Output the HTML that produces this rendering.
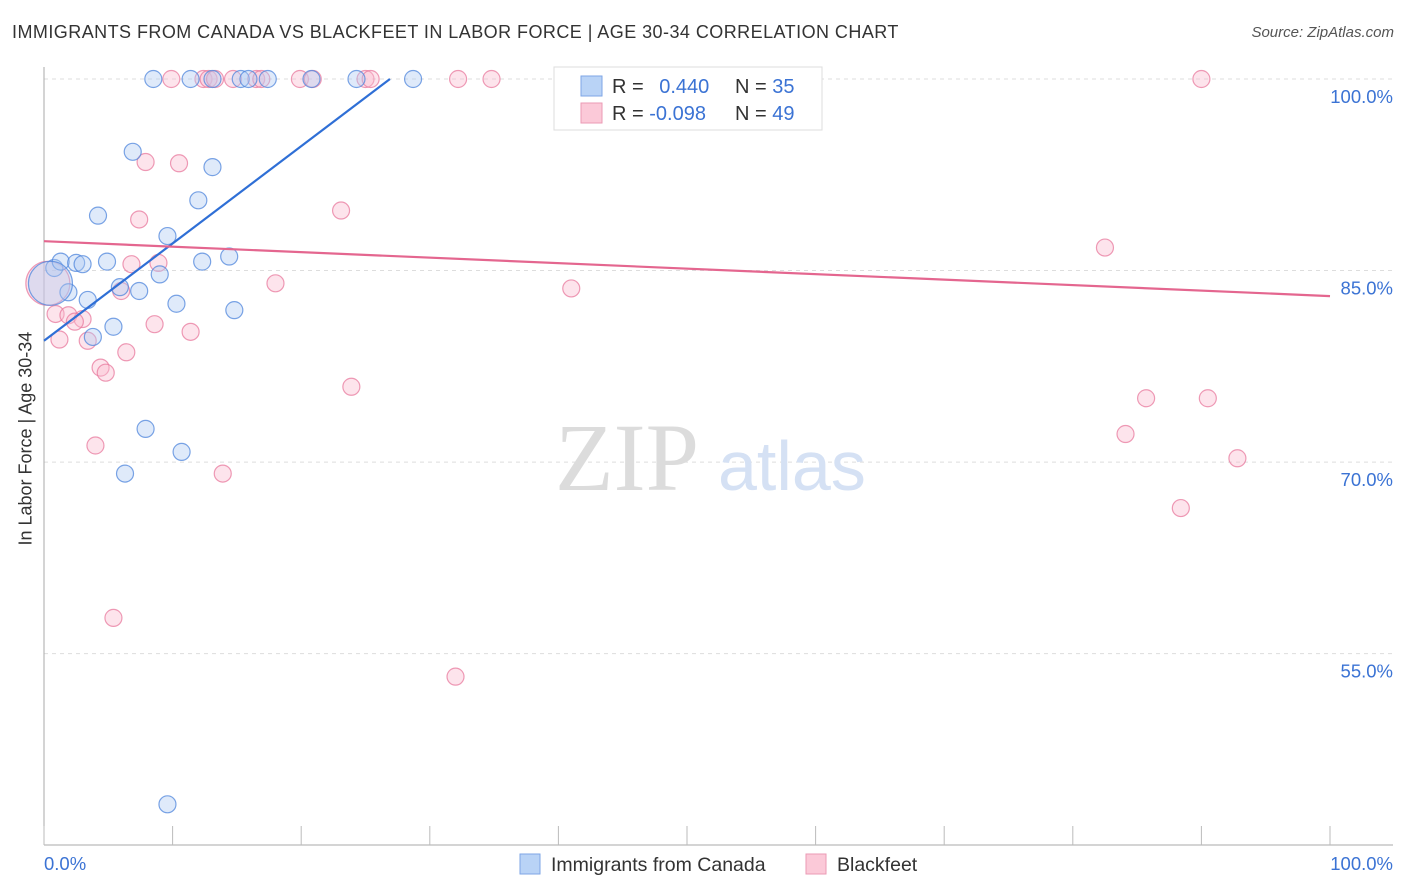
<!DOCTYPE html>
<html><head><meta charset="utf-8">
<style>
body{margin:0;background:#fff;font-family:"Liberation Sans",sans-serif;}
#wrap{position:relative;width:1406px;height:892px;overflow:hidden;}
.t{position:absolute;white-space:nowrap;}
</style></head>
<body>
<div id="wrap">
<div class="t" style="left:12px;top:22px;font-size:18px;letter-spacing:0.45px;color:#333;">IMMIGRANTS FROM CANADA VS BLACKFEET IN LABOR FORCE | AGE 30-34 CORRELATION CHART</div>
<div class="t" style="right:12px;top:24px;font-size:15px;color:#555;font-style:italic;">Source: ZipAtlas.com</div>
<div class="t" style="left:-64px;top:445px;width:180px;text-align:center;font-size:18px;color:#333;transform:rotate(-90deg);">In Labor Force | Age 30-34</div>
<svg id="svg" width="1406" height="892" style="position:absolute;left:0;top:0"></svg>
</div>
<script>
const blueX=[8.5,11.4,13.1,15.3,15.9,17.4,20.8,24.3,28.7,6.9,13.1,12.0,4.2,9.6,0.8,1.3,2.5,3.0,4.9,12.3,14.4,9.0,1.9,3.4,5.9,7.4,10.3,14.8,5.4,3.8,7.9,10.7,6.3,9.6,0.5];
const blueY=[100,100,100,100,100,100,100,100,100,94.3,93.1,90.5,89.3,87.7,85.2,85.7,85.6,85.5,85.7,85.7,86.1,84.7,83.3,82.7,83.7,83.4,82.4,81.9,80.6,79.8,72.6,70.8,69.1,43.2,84.0];
const blueBig=[34];
const pinkX=[9.9,12.4,12.8,13.3,14.7,16.5,16.9,19.9,20.9,25.0,25.4,32.2,34.8,40.5,47.3,50.1,90.0,7.9,10.5,7.4,23.1,82.5,6.8,8.9,18.0,41.0,6.0,0.9,1.9,3.0,2.4,8.6,11.4,1.2,3.4,6.4,4.4,4.8,23.9,85.7,90.5,84.1,4.0,13.9,92.8,88.4,5.4,32.0,0.3];
const pinkY=[100,100,100,100,100,100,100,100,100,100,100,100,100,100,100,100,100,93.5,93.4,89.0,89.7,86.8,85.5,85.6,84.0,83.6,83.4,81.6,81.5,81.2,81.0,80.8,80.2,79.6,79.5,78.6,77.4,77.0,75.9,75.0,75.0,72.2,71.3,69.1,70.3,66.4,57.8,53.2,84.0];
const pinkBig=[48];
const blueTrend=[79.5,0.762];
const pinkTrend=[87.3,-0.043];
const yTicks=[100,85,70,55];
const xTicks=[0,10,20,30,40,50,60,70,80,90,100];
const legendRows=[["0.440","35"],["-0.098","49"]];

const NS="http://www.w3.org/2000/svg";
const svg=document.getElementById('svg');
const X=v=>44+v*12.86;
const Y=v=>79+(100-v)*12.77;
function mk(tag,attrs,parent){const e=document.createElementNS(NS,tag);for(const k in attrs)e.setAttribute(k,attrs[k]);(parent||svg).appendChild(e);return e;}

yTicks.forEach(t=>{
 const g=mk('line',{x1:44,x2:1393,y1:Y(t),y2:Y(t),stroke:'#ddd','stroke-dasharray':'4,4'});
 
 
 const tx=mk('text',{x:1393,y:Y(t)+24,'text-anchor':'end','font-size':18.5,fill:'#3b73d4','font-family':'Liberation Sans, sans-serif'});
 tx.textContent=t.toFixed(1)+'%';
 
 
});
const wm=mk('text',{x:555,y:490,'font-size':96,fill:'#dcdcdc','font-family':'Liberation Serif, serif'});wm.textContent='ZIP';


const wm2=mk('text',{x:718,y:490,'font-size':70,fill:'#d5e1f4','font-family':'Liberation Sans, sans-serif'});wm2.textContent='atlas';



const ax=mk('line',{x1:44,x2:44,y1:67,y2:845,stroke:'#aaa'});


const bx=mk('line',{x1:44,x2:1393,y1:845,y2:845,stroke:'#aaa'});


xTicks.forEach(t=>{
 const l=mk('line',{x1:X(t),x2:X(t),y1:826,y2:845,stroke:'#bbb'});
 
 
});
[[0,'start',44],[100,'end',1393]].forEach(([v,a,x])=>{
 const t=mk('text',{x:x,y:870,'text-anchor':a,'font-size':18.5,fill:'#3b73d4','font-family':'Liberation Sans, sans-serif'});
 t.textContent=v.toFixed(1)+'%';
 
 
});

function pts(xs,ys,big,fill,stroke,name){
 xs.forEach((x,i)=>{
  const r=big.includes(i)?22:8.5;
  const c=mk('circle',{cx:X(x),cy:Y(ys[i]),r:r,fill:fill,'fill-opacity':0.4,stroke:stroke,'stroke-width':1.2,'stroke-opacity':0.75});
  
  
 });
}
pts(pinkX,pinkY,pinkBig,'#f9bcd0','#e87a9e','blackfeet-point');
pts(blueX,blueY,blueBig,'#aecbf3','#4f86dc','canada-point');

const bEnd=(100-blueTrend[0])/blueTrend[1];
const bl=mk('line',{x1:X(0),y1:Y(blueTrend[0]),x2:X(bEnd),y2:Y(100),stroke:'#2f6fd6','stroke-width':2.2});


const pl=mk('line',{x1:X(0),y1:Y(pinkTrend[0]),x2:X(100),y2:Y(pinkTrend[0]+pinkTrend[1]*100),stroke:'#e4668f','stroke-width':2.2});



const lg=mk('rect',{x:554,y:67,width:268,height:63,fill:'#fff',stroke:'#ddd'});


const cols=[['#b9d3f6','#7ea6e6'],['#fbc9d8','#eb9ab4']];
legendRows.forEach((r,i)=>{
 const y=86+i*27;
 const s=mk('rect',{x:581,y:y-10,width:21,height:20,fill:cols[i][0],stroke:cols[i][1]});
 
 
 const t=mk('text',{x:612,y:y+7,'font-size':20,fill:'#333','font-family':'Liberation Sans, sans-serif'});
 t.innerHTML='R = <tspan fill="#3b73d4">'+(i==0?'\u2002':'')+r[0]+'</tspan>';
 
 
 const n=mk('text',{x:735,y:y+7,'font-size':20,fill:'#333','font-family':'Liberation Sans, sans-serif'});
 n.innerHTML='N = <tspan fill="#3b73d4">'+r[1]+'</tspan>';
 
 
});
[['Immigrants from Canada',520,0],['Blackfeet',806,1]].forEach(([lab,x,i])=>{
 const s=mk('rect',{x:x,y:854,width:20,height:20,fill:cols[i][0],stroke:cols[i][1]});
 
 
 const t=mk('text',{x:x+31,y:871,'font-size':19.5,fill:'#333','font-family':'Liberation Sans, sans-serif'});
 t.textContent=lab;
 
 
});
</script>
</body></html>
